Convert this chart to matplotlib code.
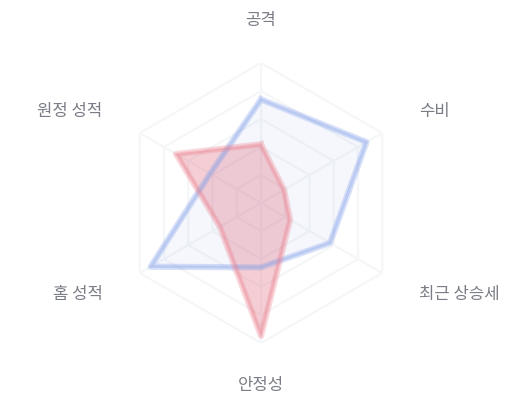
import numpy as np
import matplotlib
matplotlib.use("Agg")
import matplotlib.pyplot as plt

plt.rcParams['font.family'] = ['Noto Sans CJK KR', 'DejaVu Sans']

categories = ['공격', '수비', '최근 상승세', '안정성', '홈 성적', '원정 성적']
team_blue = [74, 87, 57, 46, 91, 42]
team_red = [42, 19, 24, 95, 34, 70]
max_value = 100
rings = 5

fig = plt.figure(figsize=(5.2, 4.0), dpi=100)
ax = fig.add_axes([121 / 520, 57 / 400, 280 / 520, 280 / 400], projection='polar')
ax.set_theta_offset(np.pi / 2)
ax.set_theta_direction(-1)
ax.set_ylim(0, max_value)
ax.grid(False)
ax.spines['polar'].set_visible(False)
ax.set_xticks([])
ax.set_yticks([])
ax.patch.set_alpha(0)

n = len(categories)
angles = np.linspace(0, 2 * np.pi, n, endpoint=False)
closed = np.concatenate([angles, angles[:1]])

# hexagonal grid
for i in range(1, rings + 1):
    r = max_value * i / rings
    ax.plot(closed, [r] * (n + 1), color='#f5f6f8', lw=1.5, zorder=1)
for a in angles:
    ax.plot([a, a], [0, max_value], color='#f5f6f8', lw=1.5, zorder=1)

def series(vals, line, face, alpha):
    v = list(vals) + [vals[0]]
    ax.fill(closed, v, color=face, alpha=alpha, lw=0, zorder=2)
    ax.plot(closed, v, color=line, lw=4.5, alpha=0.3, zorder=3,
            solid_joinstyle='round')
    ax.plot(closed, v, color=line, lw=2.0, alpha=0.3, zorder=3,
            solid_joinstyle='round')

series(team_blue, '#7f9de9', '#5a7fe0', 0.06)
series(team_red, '#ec8290', '#dd5f73', 0.3)

label_r = max_value * 183 / 140
for a, name in zip(angles, categories):
    s = np.sin(a)
    if abs(s) < 1e-6:
        ha = 'center'
    elif s > 0:
        ha = 'left'
    else:
        ha = 'right'
    ax.text(a, label_r, name, ha=ha, va='center', fontsize=12,
            color='#7a7c86', zorder=5)

fig.savefig('out.png', dpi=100, facecolor='white')
